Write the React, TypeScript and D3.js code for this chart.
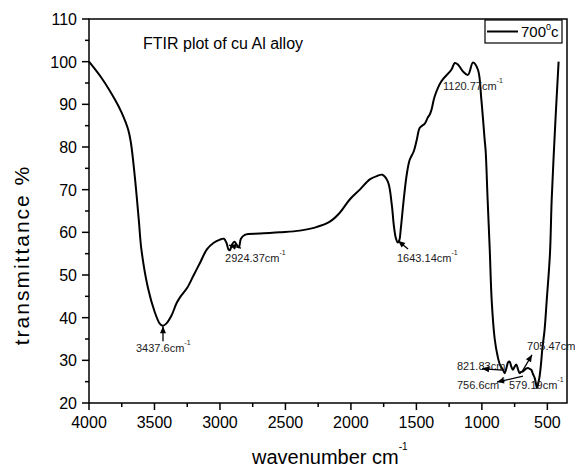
import React from "react";
import * as d3 from "d3";

const wavenumbers = [4000, 3900, 3800, 3750, 3700, 3680, 3650, 3620, 3600, 3550, 3500, 3460, 3437, 3410, 3370, 3330, 3300, 3250, 3200, 3150, 3100, 3050, 3000, 2970, 2950, 2935, 2924, 2910, 2890, 2870, 2855, 2840, 2810, 2695, 2543, 2390, 2276, 2161, 2085, 2009, 1932, 1856, 1800, 1760, 1718, 1688, 1673, 1658, 1643, 1630, 1620, 1597, 1574, 1551, 1520, 1497, 1474, 1436, 1413, 1398, 1385, 1360, 1309, 1233, 1207, 1182, 1144, 1106, 1068, 1030, 1004, 979, 971, 956, 940, 925, 902, 880, 860, 839, 826, 810, 800, 788, 775, 763, 750, 737, 725, 712, 700, 686, 665, 648, 635, 623, 610, 597, 585, 579, 570, 559, 549, 539, 521, 505, 480, 467, 437, 414];
const transmittance = [100, 96, 91, 88, 84, 81, 73, 63, 56, 47, 41.5, 38.6, 38.1, 38.6, 40.5, 43.5, 45, 47, 50, 53, 56, 57.5, 58.3, 58.5, 57.5, 56, 55.8, 57, 57.8, 57, 56.5, 58.5, 59.4, 59.7, 60, 60.4, 61.1, 62.5, 64.6, 67.7, 70, 72.4, 73.2, 73.5, 71.9, 66.5, 61.8, 58.8, 57.6, 58.2, 60.6, 67.6, 73.5, 77, 79, 81.7, 84.5, 85.5, 86.9, 87.6, 88.7, 91.9, 95.4, 98.1, 99.7, 99.3, 97.7, 96.9, 99.8, 98.1, 91.1, 81.8, 79, 67.6, 56, 44, 35, 31, 28.8, 27.8, 27, 28.5, 29.5, 29.7, 28.5, 27.8, 28.5, 29, 28, 27, 27.3, 27.4, 28, 28.2, 28, 27.8, 26.8, 25.9, 24.2, 23.5, 24.5, 26.3, 29, 32.5, 37.2, 44, 55, 67.6, 87, 100];

const xTicks = [4000, 3500, 3000, 2500, 2000, 1500, 1000, 500];
const xMinorTicks = [3750, 3250, 2750, 2250, 1750, 1250, 750];
const yTicks = [20, 30, 40, 50, 60, 70, 80, 90, 100, 110];
const yMinorTicks = [25, 35, 45, 55, 65, 75, 85, 95, 105];

const titleText = "FTIR plot of cu Al alloy";
const xLabel = "wavenumber cm";
const yLabel = "transmittance %";
const legendLabel = "700";

// annotations: label text, text anchor [wavenumber, value], optional arrow tail/head
const annLabels = ["3437.6cm", "2924.37cm", "1643.14cm", "1120.77cm", "821.83cm", "756.6cm", "579.19cm", "705.47cm"];
const annTextPos = [[3641, 31.95], [2961, 53.05], [1648, 53.05], [1297, 93.4], [1190, 27.7], [1190, 23.3], [793, 23.3], [655, 32.4]];
const annSup = [true, true, true, true, false, true, true, false];
const annArrows = [
  [[3435, 34.5], [3435, 38.0]],
  [[2839, 56.3], [2931, 57.0]],
  [[1564, 56.1], [1640, 58.0]],
  null,
  [[839, 27.7], [999, 28.0]],
  [[686, 26.3], [885, 24.9]],
  null,
  [[694, 27.3], [617, 31.3]],
];

const W = 575, H = 470;
const left = 89, right = 567, top = 19, bottom = 403;
const FONT = "'Liberation Sans', Arial, sans-serif";

export default function App() {
  const x = d3.scaleLinear().domain([4000, 350]).range([left, right]);
  const y = d3.scaleLinear().domain([20, 110]).range([bottom, top]);
  const pts = wavenumbers.map((w, i) => [w, transmittance[i]] as [number, number]);
  const line = d3.line<[number, number]>().x(d => x(d[0])).y(d => y(d[1])).curve(d3.curveCatmullRom.alpha(0.5));

  const arrowHead = (x1: number, y1: number, x2: number, y2: number) => {
    const ang = Math.atan2(y2 - y1, x2 - x1);
    const L = 7, Wd = 3;
    const bx = x2 - L * Math.cos(ang), by = y2 - L * Math.sin(ang);
    const px = -Math.sin(ang) * Wd, py = Math.cos(ang) * Wd;
    return `M${x2},${y2}L${bx + px},${by + py}L${bx - px},${by - py}Z`;
  };

  return (
    <svg width={W} height={H} style={{ position: "absolute", left: 0, top: 0, background: "#fff" }} fontFamily={FONT}>
      <rect x={0} y={0} width={W} height={H} fill="#fff" />
      {/* curve */}
      <path d={line(pts) || ""} fill="none" stroke="#000" strokeWidth={2} strokeLinejoin="round" />
      {/* frame */}
      <rect x={left} y={top} width={right - left} height={bottom - top} fill="none" stroke="#000" strokeWidth={1.5} />
      {/* x ticks */}
      {xTicks.map(t => (
        <g key={"xt" + t}>
          <line x1={x(t)} x2={x(t)} y1={bottom} y2={bottom + 7} stroke="#000" strokeWidth={1.5} />
          <text x={x(t)} y={bottom + 25} fontSize={16} textAnchor="middle">{t}</text>
        </g>
      ))}
      {xMinorTicks.map(t => (
        <line key={"xm" + t} x1={x(t)} x2={x(t)} y1={bottom} y2={bottom + 4} stroke="#000" strokeWidth={1.5} />
      ))}
      {yTicks.map(t => (
        <g key={"yt" + t}>
          <line x1={left - 7} x2={left} y1={y(t)} y2={y(t)} stroke="#000" strokeWidth={1.5} />
          <text x={left - 12} y={y(t) + 6} fontSize={16} textAnchor="end">{t}</text>
        </g>
      ))}
      {yMinorTicks.map(t => (
        <line key={"ym" + t} x1={left - 4} x2={left} y1={y(t)} y2={y(t)} stroke="#000" strokeWidth={1.5} />
      ))}
      {/* axis labels */}
      <text x={252} y={464} fontSize={20}>{xLabel}<tspan fontSize={10} dy={-14}>-1</tspan></text>
      <text transform={`translate(29,255) rotate(-90)`} fontSize={21} letterSpacing={2} textAnchor="middle">{yLabel}</text>
      {/* title */}
      <text x={143} y={49} fontSize={16}>{titleText}</text>
      {/* legend */}
      <rect x={485} y={20} width={77} height={23} fill="#fff" stroke="#000" strokeWidth={1.2} />
      <line x1={487} x2={518} y1={31.5} y2={31.5} stroke="#000" strokeWidth={2} />
      <text x={521} y={37} fontSize={15}>{legendLabel}<tspan fontSize={9} dy={-7}>0</tspan><tspan dy={7}>c</tspan></text>
      {/* annotations */}
      {annLabels.map((lab, i) => {
        const [tw, tv] = annTextPos[i];
        return (
          <text key={"an" + i} x={x(tw)} y={y(tv)} fontSize={11} fill="#222">
            {lab}
            {annSup[i] ? <tspan fontSize={7} dy={-7}>-1</tspan> : null}
          </text>
        );
      })}
      {annArrows.map((a, i) => {
        if (!a) return null;
        const x1 = x(a[0][0]), y1 = y(a[0][1]), x2 = x(a[1][0]), y2 = y(a[1][1]);
        return (
          <g key={"ar" + i}>
            <line x1={x1} y1={y1} x2={x2} y2={y2} stroke="#000" strokeWidth={1.3} />
            <path d={arrowHead(x1, y1, x2, y2)} fill="#000" />
          </g>
        );
      })}
    </svg>
  );
}
